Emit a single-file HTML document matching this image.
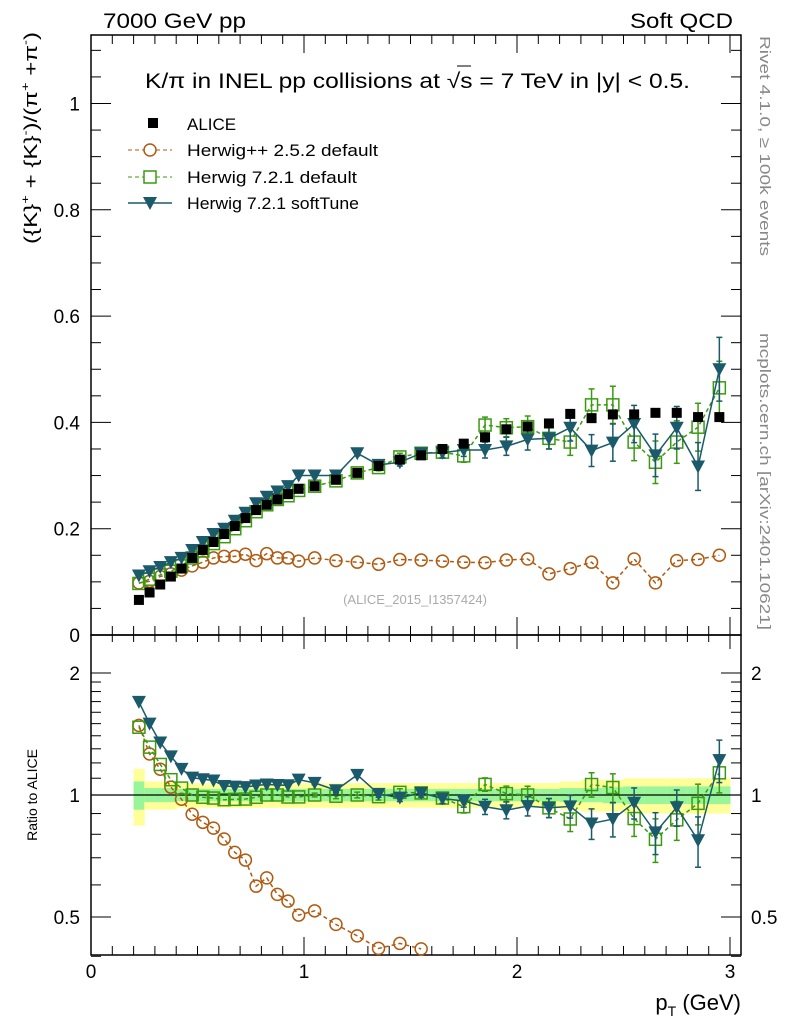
<!DOCTYPE html>
<html><head><meta charset="utf-8"><style>
body{margin:0;background:#fff;}
svg{display:block;font-family:"Liberation Sans",sans-serif;}
</style></head><body>
<svg id="c" width="786" height="1024" xmlns="http://www.w3.org/2000/svg">
<rect x="0" y="0" width="786" height="1024" fill="#fff"/>
<g id="bands"></g>
<g id="axes"></g>
<g id="series"></g>
<text x="103" y="28" font-size="21" textLength="143" lengthAdjust="spacingAndGlyphs">7000 GeV pp</text>
<text x="630" y="28" font-size="21" textLength="103" lengthAdjust="spacingAndGlyphs">Soft QCD</text>
<text x="145" y="88" font-size="21" textLength="545" lengthAdjust="spacingAndGlyphs">K/π in INEL pp collisions at √s =  7 TeV in |y| &lt; 0.5.</text>
<line x1="457" y1="66" x2="471" y2="66" stroke="#000" stroke-width="1"/>
<text x="415" y="604" font-size="13" fill="#aaa" text-anchor="middle">(ALICE_2015_I1357424)</text>
<text transform="translate(37,244) rotate(-90)" font-size="18" textLength="212" lengthAdjust="spacingAndGlyphs">({K}<tspan font-size="11" dy="-8">+</tspan><tspan dy="8"> + {K}</tspan><tspan font-size="11" dy="-8">-</tspan><tspan dy="8">)/(π</tspan><tspan font-size="11" dy="-8">+</tspan><tspan dy="8"> +π</tspan><tspan font-size="11" dy="-8">-</tspan><tspan dy="8">)</tspan></text>
<text transform="translate(37,795) rotate(-90)" font-size="14" text-anchor="middle">Ratio to ALICE</text>
<text x="741" y="1010" font-size="22" text-anchor="end">p<tspan font-size="14" dy="6">T</tspan><tspan dy="-6"> (GeV)</tspan></text>
<text transform="translate(760,36) rotate(90)" font-size="15" fill="#888" textLength="220" lengthAdjust="spacingAndGlyphs">Rivet 4.1.0, ≥ 100k events</text>
<text transform="translate(760,333) rotate(90)" font-size="15" fill="#888" textLength="297" lengthAdjust="spacingAndGlyphs">mcplots.cern.ch [arXiv:2401.10621]</text>
<g id="legend">
<rect x="148" y="118" width="10" height="10" fill="#000"/>
<text x="187" y="130" font-size="17">ALICE</text>
<line x1="128" y1="150" x2="172" y2="150" stroke="#b05a10" stroke-dasharray="4,3"/>
<circle cx="150" cy="150" r="6" fill="#fff" stroke="#b05a10" stroke-width="1.5"/>
<text x="187" y="156" font-size="17" textLength="191" lengthAdjust="spacingAndGlyphs">Herwig++ 2.5.2 default</text>
<line x1="128" y1="177" x2="172" y2="177" stroke="#3a9a10" stroke-dasharray="4,3"/>
<rect x="144" y="171" width="12" height="12" fill="#fff" stroke="#3a9a10" stroke-width="1.5"/>
<text x="187" y="183" font-size="17" textLength="170" lengthAdjust="spacingAndGlyphs">Herwig 7.2.1 default</text>
<line x1="128" y1="203" x2="172" y2="203" stroke="#1a5a6a" stroke-width="1.5"/>
<path d="M143,197 L157,197 L150,210 Z" fill="#1a5a6a"/>
<text x="187" y="209" font-size="17" textLength="172" lengthAdjust="spacingAndGlyphs">Herwig 7.2.1 softTune</text>
</g>
</svg>
<script>
const xs=[0.225,0.275,0.325,0.375,0.425,0.475,0.525,0.575,0.625,0.675,0.725,0.775,0.825,0.875,0.925,0.975,1.05,1.15,1.25,1.35,1.45,1.55,1.65,1.75,1.85,1.95,2.05,2.15,2.25,2.35,2.45,2.55,2.65,2.75,2.85,2.95];
const alice=[0.066,0.08,0.095,0.11,0.125,0.145,0.16,0.175,0.19,0.205,0.22,0.235,0.245,0.255,0.265,0.275,0.28,0.292,0.305,0.318,0.33,0.338,0.35,0.36,0.372,0.387,0.392,0.398,0.416,0.408,0.415,0.415,0.418,0.418,0.41,0.41];
const hpp=[0.098,0.101,0.11,0.115,0.122,0.13,0.137,0.145,0.148,0.148,0.152,0.14,0.153,0.145,0.145,0.139,0.145,0.14,0.137,0.133,0.142,0.141,0.139,0.137,0.136,0.141,0.143,0.115,0.125,0.137,0.098,0.143,0.098,0.14,0.142,0.15];
const h7=[0.097,0.105,0.113,0.12,0.13,0.145,0.158,0.172,0.185,0.2,0.215,0.232,0.245,0.255,0.262,0.272,0.28,0.29,0.305,0.315,0.335,0.342,0.344,0.337,0.395,0.39,0.392,0.37,0.363,0.433,0.433,0.363,0.325,0.363,0.391,0.465];
const h7soft=[0.112,0.12,0.128,0.137,0.145,0.16,0.175,0.19,0.2,0.215,0.23,0.248,0.26,0.27,0.28,0.3,0.3,0.3,0.342,0.32,0.325,0.342,0.343,0.348,0.348,0.355,0.368,0.37,0.39,0.347,0.362,0.397,0.338,0.39,0.317,0.5];
const h7err=[0,0,0,0,0,0,0,0,0,0,0,0,0,0,0,0,0.003,0.004,0.005,0.006,0.007,0.008,0.01,0.012,0.015,0.017,0.02,0.02,0.025,0.03,0.035,0.035,0.04,0.04,0.045,0.05];
const softErr=[0,0,0,0,0,0,0,0,0,0,0,0,0,0,0,0,0.003,0.004,0.005,0.006,0.007,0.008,0.01,0.012,0.015,0.017,0.02,0.02,0.025,0.03,0.035,0.035,0.04,0.04,0.045,0.06];
const bandYellow=[0.16,0.08,0.08,0.08,0.07,0.07,0.07,0.07,0.07,0.07,0.07,0.07,0.07,0.07,0.07,0.07,0.07,0.07,0.07,0.07,0.07,0.07,0.07,0.07,0.07,0.07,0.07,0.07,0.08,0.09,0.09,0.1,0.1,0.1,0.1,0.1];
const bandGreen=[0.08,0.04,0.04,0.04,0.035,0.035,0.035,0.035,0.035,0.035,0.035,0.035,0.035,0.035,0.035,0.035,0.035,0.035,0.035,0.035,0.035,0.035,0.035,0.035,0.035,0.035,0.035,0.035,0.04,0.04,0.045,0.05,0.05,0.05,0.05,0.05];
const xTicks=[0,1,2,3];
const yTicks=[0,0.2,0.4,0.6,0.8,1];
const rTicks=[0.5,1,2];
const NS="http://www.w3.org/2000/svg";
const L=91,R=741,T=35,MB=635,RB=955;
const X=v=>L+v*213;
const Y=v=>MB-v*531.5;
const RY=r=>795-405.3*Math.log10(r);
function mk(p,tag,at){const e=document.createElementNS(NS,tag);for(const k in at)e.setAttribute(k,at[k]);p.appendChild(e);return e;}
const ax=document.getElementById('axes'),bd=document.getElementById('bands'),sr=document.getElementById('series');
for(let i=0;i<xs.length;i++){
 const x0=i<16?X(xs[i]-0.025):X(xs[i]-0.05), x1=i<16?X(xs[i]+0.025):X(xs[i]+0.05);
 const y=mk(bd,'rect',{x:x0,y:RY(1+bandYellow[i]),width:x1-x0+0.5,height:RY(1-bandYellow[i])-RY(1+bandYellow[i]),fill:'#ffff99'});
 
 
 const g=mk(bd,'rect',{x:x0,y:RY(1+bandGreen[i]),width:x1-x0+0.5,height:RY(1-bandGreen[i])-RY(1+bandGreen[i]),fill:'#99f599'});
 
 
}
mk(ax,'rect',{x:L,y:T,width:R-L,height:MB-T,fill:'none',stroke:'#000','stroke-width':1.5});
mk(ax,'rect',{x:L,y:MB,width:R-L,height:RB-MB,fill:'none',stroke:'#000','stroke-width':1.5});
mk(ax,'line',{x1:L,x2:R,y1:RY(1),y2:RY(1),stroke:'#000','stroke-width':1.2});
for(let v=0;v<=3.05;v+=0.1){const big=Math.abs(v-Math.round(v))<1e-6;const px=X(v);
 for(const yb of [MB,RB]){mk(ax,'line',{x1:px,x2:px,y1:yb,y2:yb-(big?18:9),stroke:'#000'});}
 mk(ax,'line',{x1:px,x2:px,y1:T,y2:T+(big?18:9),stroke:'#000'});
 mk(ax,'line',{x1:px,x2:px,y1:MB,y2:MB+(big?14:7),stroke:'#000'});}
xTicks.forEach(v=>{const t=mk(ax,'text',{x:X(v),y:978,'font-size':19,'text-anchor':'middle'});t.textContent=v;
 
 });
for(let v=0;v<=1.13;v+=0.05){const big=Math.abs(v*5-Math.round(v*5))<1e-6;const py=Y(v);
 mk(ax,'line',{x1:L,x2:L+(big?20:10),y1:py,y2:py,stroke:'#000'});
 mk(ax,'line',{x1:R,x2:R-(big?20:10),y1:py,y2:py,stroke:'#000'});}
yTicks.forEach(v=>{const t=mk(ax,'text',{x:80,y:Y(v)+7,'font-size':19,'text-anchor':'end'});t.textContent=v;
 
 });
[0.4,0.5,0.6,0.7,0.8,0.9,1,1.1,1.2,1.3,1.4,1.5,1.6,1.7,1.8,1.9,2].forEach(r=>{const big=(r==0.5||r==1||r==2);const py=RY(r);
 mk(ax,'line',{x1:L,x2:L+(big?20:10),y1:py,y2:py,stroke:'#000'});
 mk(ax,'line',{x1:R,x2:R-(big?20:10),y1:py,y2:py,stroke:'#000'});});
rTicks.forEach(v=>{const t=mk(ax,'text',{x:80,y:RY(v)+7,'font-size':19,'text-anchor':'end'});t.textContent=v;
 
 
 const t2=mk(ax,'text',{x:751,y:RY(v)+7,'font-size':19});t2.textContent=v;
 
 });
function drawSeries(vals,errs,color,dash,marker,name,ratio){
 const panels=[['main',v=>Y(v),vals.map(v=>v)]];
 if(ratio)panels.push(['ratio',v=>RY(v),vals.map((v,i)=>v/alice[i])]);
 panels.forEach(([pan,f,vv])=>{
  const g=mk(sr,'g',{});
  
  
  const pts=[];vv.forEach((v,i)=>{const py=f(v);if(pan=='ratio'&&(py>RB||py<MB))return;pts.push([X(xs[i]),py,i]);});
  if(color!=='#000'&&pts.length>1)mk(g,'polyline',{points:pts.map(p=>p[0]+','+p[1]).join(' '),fill:'none',stroke:color,'stroke-width':1.5,'stroke-dasharray':dash||'none'});
  pts.forEach(([px,py,i])=>{
   if(errs&&errs[i]>0){const e=pan=='main'?errs[i]:errs[i]/alice[i];const y1=f(vv[i]+e),y2=f(Math.max(vv[i]-e,0.01));
    mk(g,'line',{x1:px,x2:px,y1:y1,y2:y2,stroke:color,'stroke-width':1.5});
    mk(g,'line',{x1:px-3,x2:px+3,y1:y1,y2:y1,stroke:color,'stroke-width':1.5});
    mk(g,'line',{x1:px-3,x2:px+3,y1:y2,y2:y2,stroke:color,'stroke-width':1.5});}
   let m;
   if(marker=='sq')m=mk(g,'rect',{x:px-5,y:py-5,width:10,height:10,fill:'#000'});
   else if(marker=='circ')m=mk(g,'circle',{cx:px,cy:py,r:6,fill:'none',stroke:color,'stroke-width':1.5});
   else if(marker=='osq')m=mk(g,'rect',{x:px-6,y:py-6,width:12,height:12,fill:'none',stroke:color,'stroke-width':1.5});
   else m=mk(g,'path',{d:`M${px-7},${py-6} L${px+7},${py-6} L${px},${py+7} Z`,fill:color});
   
   
  });
 });
}
drawSeries(hpp,null,'#b05a10','4,3','circ','herwigpp-252',true);
drawSeries(h7,h7err,'#3a9a10','4,3','osq','herwig721-default',true);
drawSeries(h7soft,softErr,'#1a5a6a',null,'tri','herwig721-softtune',true);
drawSeries(alice,null,'#000',null,'sq','alice-data',false);
</script>
</body></html>
